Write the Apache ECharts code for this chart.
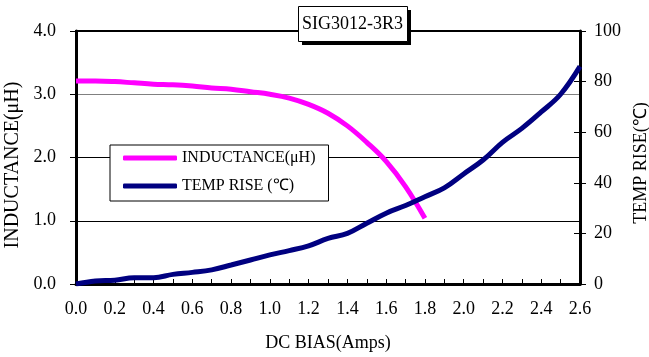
<!DOCTYPE html>
<html>
<head>
<meta charset="utf-8">
<script src="https://cdn.jsdelivr.net/npm/echarts@6/dist/echarts.min.js"></script>
<style>
html,body{margin:0;padding:0;background:#fff;}
#chart{width:649px;height:357px;}
</style>
</head>
<body>
<div id="chart"></div>
<script>
const current = [0.0,0.1,0.2,0.3,0.4,0.5,0.6,0.7,0.8,0.9,1.0,1.1,1.2,1.3,1.4,1.5,1.6,1.7,1.8,1.9,2.0,2.1,2.2,2.3,2.4,2.5,2.6];
const inductance = [3.21,3.21,3.20,3.18,3.16,3.15,3.13,3.10,3.08,3.04,3.00,2.94,2.84,2.70,2.50,2.24,1.94,1.54,1.04];
const tempRise = [0,1.2,1.5,2.5,2.5,3.8,4.6,5.6,7.5,9.5,11.5,13.2,15.1,18,20,24,28,31,34.5,38,43.5,49,56,61.5,68,75,86];
const leftTicks = [0,1,2,3,4];
const rightTicks = [0,20,40,60,80,100];
const titleText = 'SIG3012-3R3';
const seriesNames = ['INDUCTANCE(\u03bcH)','TEMP RISE (\u2103)'];

const font = '"Liberation Serif","Times New Roman",serif';
const indData = inductance.map((v,i)=>[current[i],v]);
const tmpData = tempRise.map((v,i)=>[current[i],v]);

const chart = echarts.init(document.getElementById('chart'));
chart.setOption({
  animation:false,
  backgroundColor:'#fff',
  textStyle:{fontFamily:font,color:'#000'},
  grid:{left:76,right:69,top:31,bottom:73,show:true,borderColor:'#000',borderWidth:2,containLabel:false,outerBoundsMode:'none'},
  legend:{
    left:110, top:145, orient:'vertical',
    padding:[4,13,6,13], itemGap:10,
    backgroundColor:'#fff', borderColor:'#000', borderWidth:1, borderRadius:0,
    icon:'roundRect', itemWidth:54, itemHeight:5,
    textStyle:{fontFamily:font,fontSize:16,color:'#000',lineHeight:18},
    data:seriesNames
  },
  xAxis:{
    type:'value', min:0, max:2.6, interval:0.2,
    name:'DC BIAS(Amps)', nameLocation:'middle', nameGap:50,
    nameTextStyle:{fontFamily:font,fontSize:18,color:'#000'},
    axisLine:{lineStyle:{color:'#000',width:3}},
    axisTick:{inside:true,length:5,lineStyle:{color:'#000',width:1}},
    minorTick:{show:true,splitNumber:2,length:5,lineStyle:{color:'#000',width:1}},
    splitLine:{show:false},
    axisLabel:{fontFamily:font,fontSize:18,color:'#000',margin:16,formatter:v=>v.toFixed(1)}
  },
  yAxis:[
    {
      type:'value', min:leftTicks[0], max:leftTicks[leftTicks.length-1], interval:1,
      name:'INDUCTANCE(\u03bcH)', nameLocation:'middle', nameGap:47, nameRotate:90,
      nameTextStyle:{fontFamily:font,fontSize:20,color:'#000',padding:[0,15,0,0]},
      axisLine:{show:true,lineStyle:{color:'#000',width:3}},
      axisTick:{show:true,length:6,lineStyle:{color:'#000'}},
      splitLine:{show:true,lineStyle:{color:['#000','#000','#000','#808080','#000'],width:1}},
      axisLabel:{fontFamily:font,fontSize:18,color:'#000',margin:20,formatter:v=>v.toFixed(1)}
    },
    {
      type:'value', position:'right', min:rightTicks[0], max:rightTicks[rightTicks.length-1], interval:20,
      name:'TEMP RISE(\u2103)', nameLocation:'middle', nameGap:51, nameRotate:90,
      nameTextStyle:{fontFamily:font,fontSize:18,color:'#000',padding:[0,11,0,0]},
      axisLine:{show:true,lineStyle:{color:'#000',width:3}},
      axisTick:{show:true,length:6,lineStyle:{color:'#000'}},
      splitLine:{show:false},
      axisLabel:{fontFamily:font,fontSize:18,color:'#000',margin:14}
    },
    {
      type:'value', position:'right', min:rightTicks[0], max:rightTicks[rightTicks.length-1], interval:20,
      axisLine:{show:false},
      axisTick:{show:true,inside:true,length:6,lineStyle:{color:'#000'}},
      splitLine:{show:false},
      axisLabel:{show:false}
    }
  ],
  series:[
    {name:seriesNames[0],type:'line',yAxisIndex:0,data:indData,smooth:0.4,showSymbol:false,
     lineStyle:{color:'#ff00ff',width:5},itemStyle:{color:'#ff00ff'},z:3},
    {name:seriesNames[1],type:'line',yAxisIndex:1,data:tmpData,smooth:0.4,showSymbol:false,
     lineStyle:{color:'#000080',width:5},itemStyle:{color:'#000080'},z:4}
  ],
  graphic:[
    {type:'rect',left:302,top:10,shape:{width:109,height:35},style:{fill:'#000'},z:100},
    {type:'rect',left:298,top:6,shape:{width:109,height:35},style:{fill:'#fff',stroke:'#000',lineWidth:1},z:101},
    {type:'text',x:352.5,y:24,style:{text:titleText,font:'18px '+font,fill:'#000',align:'center',verticalAlign:'middle'},z:102}
  ]
});
</script>
</body>
</html>
